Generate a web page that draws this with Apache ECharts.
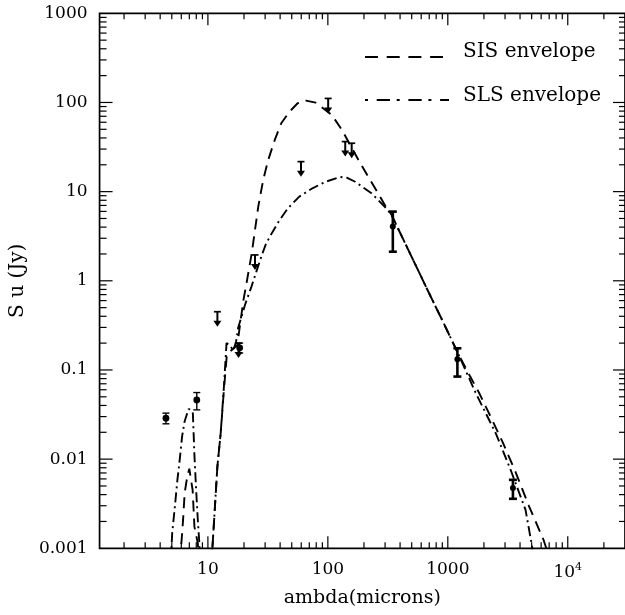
<!DOCTYPE html>
<html><head><meta charset="utf-8">
<script src="https://cdn.jsdelivr.net/npm/echarts@6/dist/echarts.min.js"></script>
<style>html,body{margin:0;padding:0;background:#fff}#c{width:625px;height:615px}</style>
</head><body><div id="c"></div>
<script>
// ---- data (wavelength in microns, flux in Jy) ----
const sisCurve = [
  [5.8,0.0007],[6.01,0.00114],[6.21,0.00208],[6.4,0.00416],[6.73,0.0064],[7.0,0.0078],[7.2,0.0076],
  [7.46,0.0045],[7.72,0.00175],[8.24,0.00114],[8.4,0.0007],
  [10.7,0.0007],[10.9,0.001],[12.0,0.0083],[12.8,0.02],[13.6,0.06],[14.4,0.15],[16.0,0.17],[17.6,0.19],
  [18.6,0.335],[19.8,0.61],[21.1,0.98],[23.2,2.04],[24.7,3.72],[26.3,6.8],[28.9,13.5],[31.8,22.6],
  [36.1,38],[40.9,58.5],[47.9,78.9],[56,98],[65.6,104.8],[79.2,99.5],[108,72.4],[131,49.2],[180,22.6],
  [217,14.7],[262,9.6],[300,7.0],[337,5.6],[400,3.46],[500,1.85],[700,0.72],[900,0.36],[1100,0.204],
  [1260,0.14],[1525,0.086],[1841,0.054],[2300,0.029],[2864,0.0155],[3681,0.0071],[4736,0.003],
  [6283,0.00124],[7000,0.0008]
];
const slsCurve = [
  [4.9,0.0007],[5.04,0.00148],[5.29,0.00283],[5.57,0.00586],[5.82,0.0098],[6.09,0.0179],[6.39,0.0264],
  [6.73,0.0328],[6.9,0.0364],[7.2,0.036],[7.49,0.0328],[7.73,0.0107],[7.98,0.00453],[8.24,0.00208],
  [8.49,0.00114],[8.6,0.0007],
  [10.6,0.0006],[10.9,0.001],[12.0,0.0083],[12.8,0.02],[13.6,0.065],[14.3,0.2],[15.2,0.19],[16.3,0.165],
  [17.2,0.21],[17.9,0.3],[20.5,0.55],[23,0.85],[25.5,1.3],[28,1.9],[30.5,2.6],[34,3.4],[39.6,4.8],
  [46.4,6.5],[57.8,8.8],[74.3,10.9],[95.7,12.9],[127,14.6],[145,14.3],[169,12.9],[231,9.6],[297,6.8],
  [337,5.6],[400,3.46],[500,1.85],[700,0.72],[900,0.36],[1100,0.204],[1260,0.138],[1700,0.056],
  [2523,0.0192],[3350,0.0075],[4446,0.0027],[5070,0.001],[5300,0.0007]
];
// [wavelength, flux, low, high]
const detectionsIR = [[4.47,0.0288,0.0249,0.0328],[8.08,0.0461,0.0357,0.0558],[18.4,0.177,0.155,0.2]];
const detectionsSubmm = [[348,4.06,2.12,5.97],[1202,0.132,0.0843,0.175],[3490,0.00473,0.00359,0.00586]];
// [wavelength, upper limit]
const upperLimits = [[12.0,0.45],[18.0,0.2],[24.7,1.95],[59.7,21.7],[100.6,111],[139.6,36.4],[158,34.9]];

const xMajorTicks = [10,100,1000,10000];
const xTickLabels = ['10','100','1000','{b|10}{s|4}'];
const yMajorTicks = [0.001,0.01,0.1,1,10,100,1000];
const yTickLabels = ['0.001','0.01','0.1','1','10','100','1000'];
const xDecades = [1,10,100,1000,10000];
const yDecades = [0.001,0.01,0.1,1,10,100];
const X_MIN = 1.25, X_MAX = 30000, Y_MIN = 0.001, Y_MAX = 1000;

const FONT = 'DejaVu Serif';

// tick marks (value, other, major, kind 0=x 1=y)
const tickData = [];
xDecades.forEach(d => { for (let m = 1; m <= 9; m++) { const v = d*m; if (v > X_MIN && v < X_MAX) tickData.push([v, Y_MIN, m===1?1:0, 0]); } });
yDecades.forEach(d => { for (let m = 1; m <= 9; m++) { const v = d*m; if (v > Y_MIN && v < Y_MAX) tickData.push([X_MIN, v, m===1?1:0, 1]); } });

function findLabel(value, ticks, labels) {
  const lv = Math.log10(value);
  for (let i = 0; i < ticks.length; i++) if (Math.abs(Math.log10(ticks[i]) - lv) < 1e-6) return labels[i];
  return '';
}

function renderTicks(params, api) {
  const cs = params.coordSys;
  const p = api.coord([api.value(0), api.value(1)]);
  const major = api.value(2), kind = api.value(3);
  const L = major ? 12 : 6;
  const st = {stroke:'#000', lineWidth:1.2};
  if (kind === 0) {
    const b = cs.y + cs.height, t = cs.y;
    return {type:'group', children:[
      {type:'line', shape:{x1:p[0],y1:b,x2:p[0],y2:b-L}, style:st},
      {type:'line', shape:{x1:p[0],y1:t,x2:p[0],y2:t+L}, style:st}
    ]};
  }
  const l = cs.x, r = cs.x + cs.width;
  return {type:'group', children:[
    {type:'line', shape:{x1:l,y1:p[1],x2:l+L+1,y2:p[1]}, style:st},
    {type:'line', shape:{x1:r,y1:p[1],x2:r-L,y2:p[1]}, style:st}
  ]};
}

function makeErr(lw, r, cap) {
  return function (params, api) {
    const x = api.value(0);
    const pc = api.coord([x, api.value(1)]);
    const pl = api.coord([x, api.value(2)]);
    const ph = api.coord([x, api.value(3)]);
    const st = {stroke:'#000', lineWidth:lw};
    return {type:'group', children:[
      {type:'line', shape:{x1:pc[0],y1:pl[1],x2:pc[0],y2:ph[1]}, style:st},
      {type:'line', shape:{x1:pc[0]-cap,y1:pl[1],x2:pc[0]+cap,y2:pl[1]}, style:st},
      {type:'line', shape:{x1:pc[0]-cap,y1:ph[1],x2:pc[0]+cap,y2:ph[1]}, style:st},
      {type:'circle', shape:{cx:pc[0],cy:pc[1],r:r}, style:{fill:'#000'}}
    ]};
  };
}

function renderUL(params, api) {
  const p = api.coord([api.value(0), api.value(1)]);
  const len = 15, hw = 3.5, ah = 6, aw = 4;
  return {type:'group', children:[
    {type:'line', shape:{x1:p[0]-hw,y1:p[1],x2:p[0]+hw,y2:p[1]}, style:{stroke:'#000',lineWidth:1.7}},
    {type:'line', shape:{x1:p[0],y1:p[1],x2:p[0],y2:p[1]+len-ah+1}, style:{stroke:'#000',lineWidth:2}},
    {type:'polygon', shape:{points:[[p[0]-aw,p[1]+len-ah],[p[0]+aw,p[1]+len-ah],[p[0],p[1]+len]]}, style:{fill:'#000'}}
  ]};
}

const chart = echarts.init(document.getElementById('c'), null, {renderer:'canvas'});
chart.setOption({
  animation:false,
  backgroundColor:'#fff',
  grid:{left:97, top:13.3, width:534, height:535, show:true, borderColor:'#000', borderWidth:1.7, backgroundColor:'transparent'},
  xAxis:{
    type:'log', logBase:10, min:X_MIN, max:X_MAX,
    axisLine:{show:false}, axisTick:{show:false}, splitLine:{show:false}, minorTick:{show:false},
    axisLabel:{
      showMinLabel:false, showMaxLabel:false,
      formatter:v => findLabel(v, xMajorTicks, xTickLabels),
      fontFamily:FONT, fontSize:17, color:'#000', margin:13,
      rich:{b:{fontFamily:FONT,fontSize:17,color:'#000',lineHeight:20,verticalAlign:'bottom'},
            s:{fontFamily:FONT,fontSize:11,color:'#000',lineHeight:11,verticalAlign:'top'}}
    },
    name:'ambda(microns)', nameLocation:'middle', nameGap:40,
    nameTextStyle:{fontFamily:FONT, fontSize:19, color:'#000'}
  },
  yAxis:{
    type:'log', logBase:10, min:Y_MIN, max:Y_MAX,
    axisLine:{show:false}, axisTick:{show:false}, splitLine:{show:false}, minorTick:{show:false},
    axisLabel:{formatter:v => findLabel(v, yMajorTicks, yTickLabels), fontFamily:FONT, fontSize:17, color:'#000', margin:12},
    name:'S u (Jy)', nameLocation:'middle', nameGap:63,
    nameTextStyle:{fontFamily:FONT, fontSize:20, color:'#000'}
  },
  graphic:[
    {type:'line', shape:{x1:365,y1:57,x2:443,y2:57}, style:{stroke:'#000', lineWidth:1.8, lineDash:[13,8.7]}},
    {type:'text', x:463, y:52, style:{text:'SIS envelope', fontFamily:FONT, fontSize:20, fill:'#000', verticalAlign:'middle'}},
    {type:'line', shape:{x1:365,y1:100,x2:449,y2:100}, style:{stroke:'#000', lineWidth:1.8, lineDash:[3,8.7,13.3,6.7]}},
    {type:'text', x:463, y:96, style:{text:'SLS envelope', fontFamily:FONT, fontSize:20, fill:'#000', verticalAlign:'middle'}}
  ],
  series:[
    {type:'custom', name:'ticks', data:tickData, renderItem:renderTicks, clip:false, silent:true, z:5},
    {type:'line', name:'SIS envelope', data:sisCurve, symbol:'none', clip:true, silent:true,
     lineStyle:{color:'#000', width:1.9, type:[11,7]}},
    {type:'line', name:'SLS envelope', data:slsCurve, symbol:'none', clip:true, silent:true,
     lineStyle:{color:'#000', width:1.9, type:[10,4,2,4]}},
    {type:'custom', name:'IR detections', data:detectionsIR, renderItem:makeErr(1.4,3.4,3.5), clip:false, silent:true, z:4},
    {type:'custom', name:'submm detections', data:detectionsSubmm, renderItem:makeErr(2.6,3.0,4), clip:false, silent:true, z:4},
    {type:'custom', name:'upper limits', data:upperLimits, renderItem:renderUL, clip:false, silent:true, z:4}
  ]
});
</script></body></html>
